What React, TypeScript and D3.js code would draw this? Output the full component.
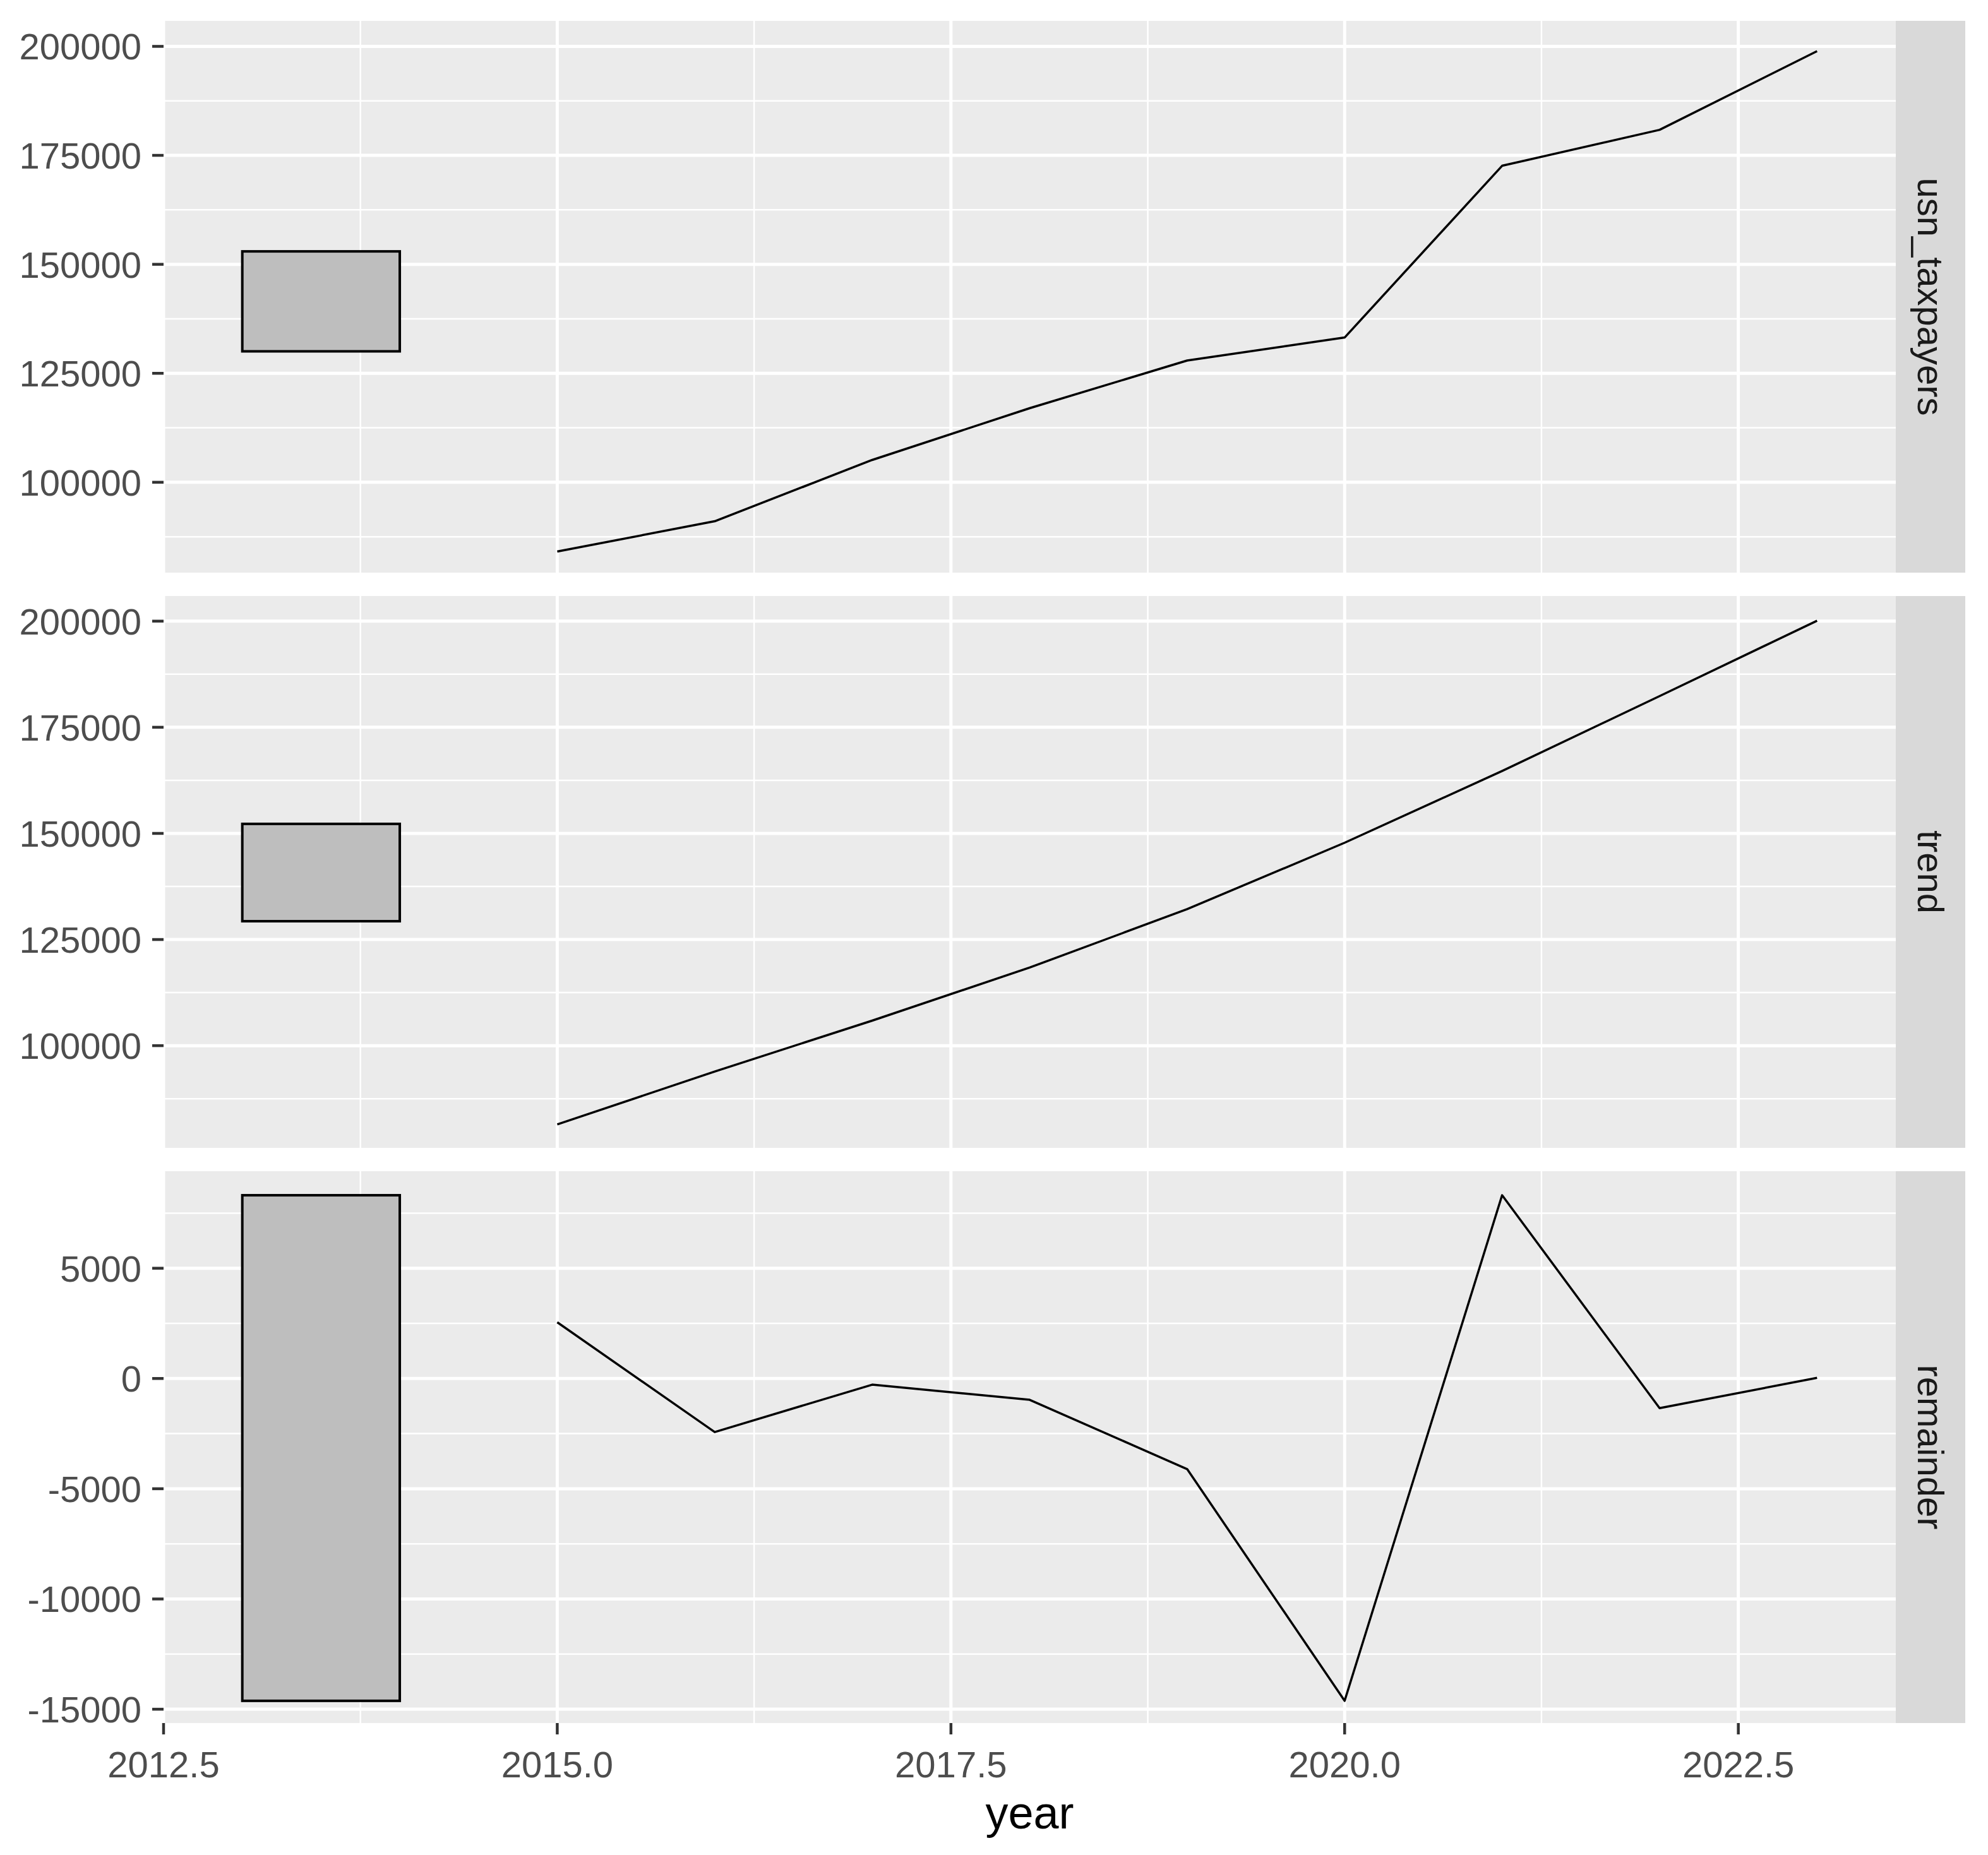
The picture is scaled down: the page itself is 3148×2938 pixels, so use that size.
import React from 'react'
import * as d3 from 'd3'

// values
const years = [2015, 2016, 2017, 2018, 2019, 2020, 2021, 2022, 2023]
const usnTaxpayers = [84107, 91060, 105120, 117000, 127930, 133207, 172607, 180858, 198900]
const trend = [81455, 93900, 105900, 118400, 132150, 147800, 164700, 182350, 200100]
const remainder = [2550, -2430, -280, -968, -4110, -14620, 8311, -1347, 30]

const panelNames = ['usn_taxpayers', 'trend', 'remainder']
const xTicks = [2012.5, 2015, 2017.5, 2020, 2022.5]
const xMinor = [2013.75, 2016.25, 2018.75, 2021.25]
const levelTicks = [100000, 125000, 150000, 175000, 200000]
const levelMinor = [87500, 112500, 137500, 162500, 187500]
const remTicks = [-15000, -10000, -5000, 0, 5000]
const remMinor = [-12500, -7500, -2500, 2500, 7500]
const rangeBarYears = [2013, 2014]

// layout
const width = 3148
const height = 2938
const left = 259
const right = 3002
const stripW = 110
const panelTop = 33
const panelH = 874
const panelGap = 37
const yDomains = [
  [79263, 205858],
  [75924, 205918],
  [-15627, 9401],
]
const font = '"Liberation Sans", Arial, sans-serif'

const series = [usnTaxpayers, trend, remainder]
const majors = [levelTicks, levelTicks, remTicks]
const minors = [levelMinor, levelMinor, remMinor]

export default function App() {
  const x = d3.scaleLinear().domain([2012.5, 2023.5]).range([left, right])
  // feasts-style scale bar: same length in every panel (range of the smallest component)
  const barLen = d3.min(series, s => d3.max(s) - d3.min(s))

  const panels = series.map((values, i) => {
    const top = panelTop + i * (panelH + panelGap)
    const y = d3.scaleLinear().domain(yDomains[i]).range([top + panelH, top])
    const line = d3
      .line<number>()
      .x((_, j) => x(years[j]))
      .y(d => y(d))
    const mid = (d3.min(values) + d3.max(values)) / 2
    return (
      <g key={panelNames[i]}>
        <rect x={left} y={top} width={right - left} height={panelH} fill="#EBEBEB" />
        {minors[i].map(v => (
          <line key={'hm' + v} x1={left} x2={right} y1={y(v)} y2={y(v)} stroke="#fff" strokeWidth={2.5} />
        ))}
        {xMinor.map(v => (
          <line key={'vm' + v} x1={x(v)} x2={x(v)} y1={top} y2={top + panelH} stroke="#fff" strokeWidth={2.5} />
        ))}
        {majors[i].map(v => (
          <line key={'h' + v} x1={left} x2={right} y1={y(v)} y2={y(v)} stroke="#fff" strokeWidth={5} />
        ))}
        {xTicks.map(v => (
          <line key={'v' + v} x1={x(v)} x2={x(v)} y1={top} y2={top + panelH} stroke="#fff" strokeWidth={5} />
        ))}
        <rect
          x={x(rangeBarYears[0])}
          y={y(mid + barLen / 2)}
          width={x(rangeBarYears[1]) - x(rangeBarYears[0])}
          height={y(mid - barLen / 2) - y(mid + barLen / 2)}
          fill="#BEBEBE"
          stroke="#000"
          strokeWidth={4}
        />
        <path d={line(values) || ''} fill="none" stroke="#000" strokeWidth={3.5} strokeLinejoin="round" />
        <rect x={right} y={top} width={stripW} height={panelH} fill="#D9D9D9" />
        <text
          transform={`translate(${right + stripW / 2},${top + panelH / 2}) rotate(90)`}
          textAnchor="middle"
          dy="0.35em"
          fontFamily={font}
          fontSize={58}
          fill="#1A1A1A"
        >
          {panelNames[i]}
        </text>
        {majors[i].map(v => (
          <g key={'t' + v}>
            <line x1={left - 18} x2={left} y1={y(v)} y2={y(v)} stroke="#333" strokeWidth={4.5} />
            <text
              x={left - 35}
              y={y(v)}
              dy="0.36em"
              textAnchor="end"
              fontFamily={font}
              fontSize={58}
              fill="#4D4D4D"
            >
              {String(v)}
            </text>
          </g>
        ))}
      </g>
    )
  })

  const bottom = panelTop + 2 * (panelH + panelGap) + panelH

  return (
    <svg
      width={width}
      height={height}
      style={{ position: 'absolute', left: 0, top: 0, display: 'block', background: '#fff' }}
    >
      <rect width={width} height={height} fill="#fff" />
      {panels}
      {xTicks.map(v => (
        <g key={'xt' + v}>
          <line x1={x(v)} x2={x(v)} y1={bottom} y2={bottom + 18} stroke="#333" strokeWidth={4.5} />
          <text x={x(v)} y={bottom + 86} textAnchor="middle" fontFamily={font} fontSize={58} fill="#4D4D4D">
            {d3.format('.1f')(v)}
          </text>
        </g>
      ))}
      <text x={(left + right) / 2} y={2896} textAnchor="middle" fontFamily={font} fontSize={72} fill="#000">
        year
      </text>
    </svg>
  )
}
